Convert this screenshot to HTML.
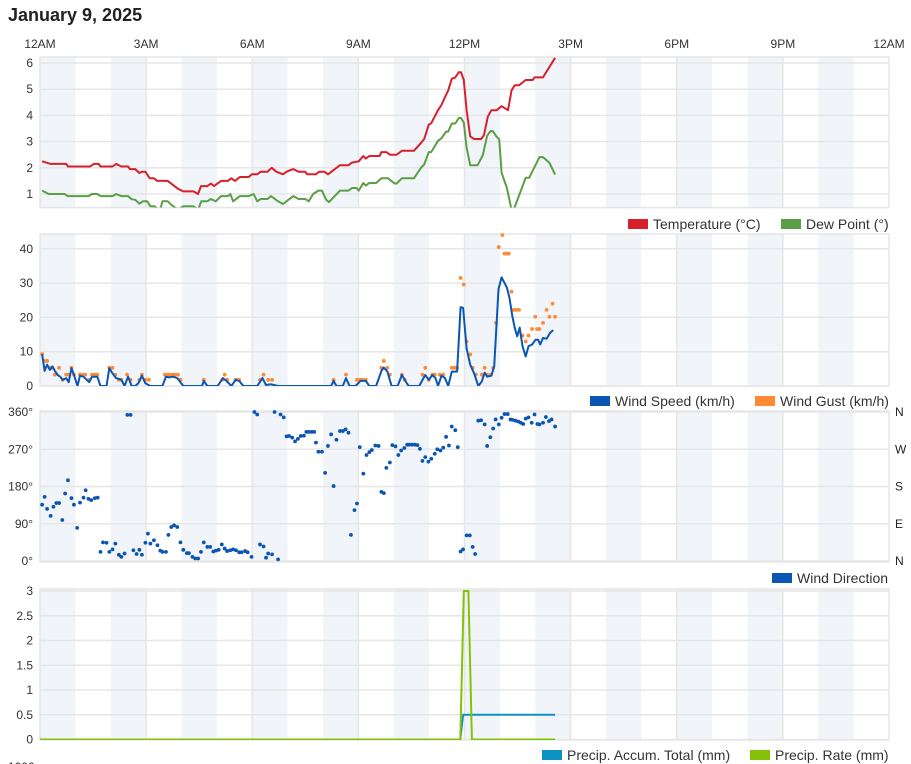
<!DOCTYPE html>
<html><head><meta charset="utf-8"><style>
body{margin:0;background:#fff;width:911px;height:764px;overflow:hidden;font-family:"Liberation Sans",sans-serif;}
svg{position:absolute;left:0;top:0}
</style></head><body>
<svg id="c" width="911" height="764" xmlns="http://www.w3.org/2000/svg" font-family="Liberation Sans, sans-serif"></svg>
<script>
const xTickLabels=["12AM","3AM","6AM","9AM","12PM","3PM","6PM","9PM","12AM"];
const tempT=[.06,.30,.74,.79,1.42,1.52,1.66,1.71,2.05,2.15,2.30,2.49,2.54,2.69,2.81,2.88,2.98,3.10,3.22,3.32,3.61,3.90,4.05,4.34,4.47,4.55,4.73,4.83,4.92,5.12,5.31,5.41,5.51,5.65,5.90,5.99,6.14,6.24,6.43,6.55,6.68,6.87,6.97,7.16,7.31,7.50,7.55,7.80,7.89,8.04,8.14,8.48,8.72,8.82,9.01,9.14,9.21,9.31,9.60,9.65,9.79,9.89,10.08,10.23,10.57,10.77,10.86,10.99,11.06,11.25,11.35,11.45,11.54,11.64,11.74,11.84,11.90,11.98,12.06,12.16,12.27,12.47,12.55,12.66,12.76,12.91,13.05,13.23,13.33,13.42,13.54,13.73,13.93,13.98,14.22,14.56];
const tempV=[2.25,2.15,2.15,2.05,2.05,2.15,2.15,2.05,2.05,2.15,2.05,2.05,1.95,1.95,1.8,1.85,1.85,1.6,1.6,1.5,1.5,1.2,1.1,1.1,1.0,1.3,1.3,1.4,1.3,1.5,1.5,1.6,1.5,1.65,1.65,1.75,1.75,1.85,1.85,2.0,1.85,1.75,1.85,1.95,1.85,1.85,1.75,1.75,1.85,1.85,1.75,2.1,2.1,2.2,2.25,2.45,2.35,2.45,2.45,2.6,2.6,2.5,2.5,2.65,2.65,2.95,3.1,3.65,3.7,4.2,4.4,4.7,4.95,5.4,5.45,5.65,5.65,5.35,4.2,3.2,3.1,3.1,3.25,3.95,4.2,4.2,4.35,4.2,4.95,5.15,5.15,5.35,5.35,5.45,5.45,6.2];
const dewT=[.06,.25,.69,.79,1.37,1.47,1.62,1.71,2.05,2.15,2.30,2.49,2.59,2.69,2.81,2.91,3.03,3.12,3.24,3.34,3.40,3.46,3.61,3.71,3.90,4.05,4.34,4.47,4.56,4.73,4.83,4.97,5.12,5.31,5.38,5.46,5.65,5.90,6.04,6.14,6.24,6.43,6.53,6.73,6.87,7.16,7.31,7.50,7.60,7.72,7.87,7.97,8.09,8.17,8.48,8.72,8.82,8.95,9.01,9.14,9.21,9.31,9.50,9.65,9.84,10.02,10.08,10.23,10.57,10.77,10.86,10.99,11.06,11.25,11.35,11.48,11.54,11.64,11.74,11.84,11.90,11.98,12.06,12.16,12.37,12.52,12.64,12.74,12.81,12.91,12.98,13.05,13.20,13.33,13.39,13.73,13.83,14.12,14.22,14.40,14.56];
const dewV=[1.13,1.0,1.0,.92,.92,1.0,1.0,.92,.92,1.0,.92,.92,.8,.78,.63,.72,.72,.53,.53,.4,.4,.72,.72,.59,.4,.53,.53,.4,.72,.72,.81,.72,.92,.92,1.0,.72,.92,.92,1.0,.72,.81,.81,.92,.72,.62,.92,.81,.81,.72,1.0,1.13,1.13,.78,.69,1.13,1.13,1.23,1.23,1.13,1.42,1.32,1.42,1.42,1.6,1.6,1.4,1.4,1.6,1.6,2.0,2.13,2.6,2.6,3.03,3.13,3.38,3.38,3.69,3.69,3.9,3.9,3.73,2.77,2.1,2.1,2.49,3.22,3.41,3.38,3.18,3.09,1.81,1.23,.4,.4,1.62,1.62,2.41,2.41,2.19,1.74];
const windT=[.06,.13,.20,.28,.35,.42,.50,.57,.64,.74,.81,.89,.96,1.06,1.13,1.23,1.32,1.39,1.47,1.62,1.71,1.88,1.96,2.05,2.15,2.30,2.39,2.49,2.59,2.69,2.78,2.88,2.98,3.12,3.46,3.56,3.66,3.76,3.88,4.05,4.58,4.63,4.73,5.02,5.17,5.27,5.41,5.53,5.63,5.75,6.14,6.29,6.39,6.53,6.73,8.23,8.30,8.38,8.56,8.65,8.75,8.92,9.06,9.21,9.31,9.50,9.65,9.72,9.82,9.94,10.11,10.23,10.33,10.42,10.72,10.89,10.99,11.09,11.18,11.25,11.35,11.45,11.54,11.64,11.79,11.89,11.96,12.06,12.16,12.27,12.39,12.49,12.57,12.64,12.76,12.84,12.96,13.05,13.20,13.27,13.35,13.42,13.49,13.56,13.64,13.73,13.81,13.91,14.01,14.08,14.14,14.22,14.32,14.42,14.51];
const windV=[9.3,4.4,6.2,4.7,5.7,4.4,3.2,2.7,1.8,2.3,1.1,5.2,3.2,0,3,2.7,1.8,1.1,2.7,2.7,0,0,5.2,3.7,2.3,1.8,0,2.7,0,0,.8,3,.8,0,0,2.7,2.5,2.7,2.3,0,0,1.5,0,0,2.3,1.5,0,1.8,1.5,0,0,2.3,.3,.5,0,0,1.5,0,0,2.3,0,0,1.5,1.5,0,0,4.4,5.4,4.2,0,0,3.2,1.5,0,0,3.2,1.8,3.2,2.3,0,3,2.3,0,4.2,4.2,23,22.8,11,6.2,3.7,0,1.3,3.9,2.7,3,5.7,28.2,31.7,28.7,25.8,20.4,17,14.5,17,11.6,8.6,11.6,12.1,13.5,13.5,12.1,14,13.8,15.5,16.3];
const gustT=[.06,.13,.20,.28,.35,.42,.54,.64,.74,.81,.89,.96,1.13,1.20,1.28,1.39,1.47,1.55,1.62,1.96,2.05,2.13,2.23,2.30,2.46,2.56,2.81,2.88,2.98,3.08,3.53,3.61,3.69,3.76,3.82,3.90,3.97,4.63,5.15,5.22,5.29,5.53,5.63,6.22,6.32,6.45,6.56,8.30,8.65,8.96,9.04,9.11,9.21,9.65,9.72,9.82,9.89,10.23,10.31,10.81,10.89,10.99,11.09,11.16,11.30,11.40,11.64,11.72,11.79,11.89,11.98,12.06,12.16,12.23,12.32,12.49,12.57,12.64,12.74,12.81,12.89,12.97,13.07,13.13,13.20,13.25,13.33,13.39,13.46,13.54,13.64,13.73,13.81,13.91,14.00,14.05,14.12,14.22,14.32,14.40,14.49,14.56];
const gustV=[9.3,7.3,7.3,5.3,5.3,3.3,5.3,1.8,3.3,3.3,5.3,3.3,3.3,3.3,3.3,1.8,3.3,3.3,3.3,5.3,5.3,3.3,1.8,1.8,3.3,1.8,1.8,3.3,1.8,1.8,3.3,3.3,3.3,3.3,3.3,3.3,1.8,1.8,1.8,3.3,1.8,1.8,1.8,1.8,3.3,1.8,1.8,1.8,3.3,1.8,1.8,1.8,1.8,5.3,7.3,5.3,3.3,3.3,1.8,3.3,5.3,1.8,3.3,3.3,3.3,3.3,5.3,5.3,5.3,31.5,29.6,13,9.2,5.3,3.3,3.3,5.3,3.3,3.3,5.3,18.4,40.5,44,38.6,38.6,38.6,27.5,22.2,22.2,22.2,14.7,13,14.7,16.6,20.2,16.6,16.6,18.4,22.2,20.2,24,20.2];
const dirT=[.06,.13,.20,.30,.38,.46,.54,.63,.71,.79,.89,.96,1.05,1.13,1.23,1.29,1.37,1.45,1.55,1.63,1.71,1.78,1.88,1.96,2.05,2.13,2.23,2.30,2.39,2.47,2.56,2.64,2.73,2.81,2.88,2.98,3.05,3.12,3.22,3.32,3.40,3.46,3.56,3.63,3.71,3.79,3.88,3.97,4.05,4.15,4.21,4.31,4.39,4.47,4.55,4.63,4.73,4.81,4.90,4.97,5.05,5.14,5.22,5.29,5.38,5.46,5.54,5.63,5.70,5.80,5.87,5.98,6.06,6.14,6.22,6.32,6.39,6.45,6.56,6.63,6.73,6.80,6.89,6.97,7.04,7.13,7.21,7.29,7.37,7.46,7.53,7.60,7.68,7.75,7.80,7.87,7.97,8.06,8.14,8.23,8.30,8.38,8.48,8.56,8.64,8.72,8.79,8.89,8.96,9.04,9.14,9.23,9.31,9.38,9.48,9.57,9.65,9.72,9.79,9.89,9.96,10.05,10.13,10.21,10.30,10.38,10.44,10.52,10.60,10.67,10.74,10.81,10.89,10.98,11.06,11.16,11.23,11.32,11.40,11.48,11.56,11.64,11.74,11.81,11.89,11.96,12.06,12.15,12.23,12.30,12.39,12.47,12.57,12.64,12.73,12.81,12.88,12.97,13.05,13.13,13.22,13.30,13.36,13.44,13.52,13.59,13.66,13.73,13.81,13.90,13.98,14.06,14.12,14.22,14.30,14.39,14.46,14.56];
const dirV=[136,155,126,109,131,140,140,99,163,195,152,136,80,141,153,171,150,147,152,153,22,45,44,22,28,42,15,10,18,353,353,26,17,27,15,44,66,42,50,38,25,22,22,63,82,86,82,45,27,19,19,10,6,6,22,45,34,34,23,25,27,40,30,24,26,28,26,21,21,24,21,10,360,354,40,35,8,18,16,360,4,354,347,301,302,298,289,295,302,303,312,312,312,312,286,264,264,213,278,306,181,293,314,314,318,310,63,123,139,275,211,256,263,268,279,278,167,164,225,238,280,277,256,267,273,281,281,281,281,280,271,242,251,240,247,259,270,267,274,300,279,325,316,275,23,28,62,62,34,17,339,340,330,278,299,320,342,330,346,355,355,342,341,339,337,334,331,344,347,334,354,331,330,334,348,338,342,325];
const rateT=[0,11.88,11.98,12.11,12.21,14.56];
const rateV=[0,0,3,3,0,0];
const accT=[0,11.88,11.96,14.56];
const accV=[0,0,0.5,0.5];
const p1Ticks=[1,2,3,4,5,6];
const p2Ticks=[0,10,20,30,40];
const p3Ticks=[0,90,180,270,360];
const p3Labels=["0°","90°","180°","270°","360°"];
const p3Right=["N","E","S","W","N"];
const p4Ticks=[0,0.5,1,1.5,2,2.5,3];
const p4Labels=["0","0.5","1","1.5","2","2.5","3"];

const svg=document.getElementById('c');const NS='http://www.w3.org/2000/svg';
function mk(t,a,p){const e=document.createElementNS(NS,t);for(const k in a)e.setAttribute(k,a[k]);(p||svg).appendChild(e);return e;}
const X0=40,X1=889;
function x(h){return X0+h*(X1-X0)/24;}
const panels=[
 {top:57,bot:207.5,y:v=>194-(v-1)*26.2,name:'temperature-panel'},
 {top:234,bot:386,y:v=>386-v*3.43,name:'wind-speed-panel'},
 {top:411,bot:562,y:v=>561-v*149/360,name:'wind-direction-panel'},
 {top:589,bot:740,y:v=>739.5-v*49.5,name:'precipitation-panel'}];
const t=mk('text',{x:8,y:21,'font-size':18,'font-weight':'bold',fill:'#222'});t.textContent='January 9, 2025';

xTickLabels.forEach((l,i)=>{const e=mk('text',{x:x(i*3),y:48,'font-size':12,fill:'#333','text-anchor':'middle'});e.textContent=l;
 });
panels.forEach((p,pi)=>{
 const g=mk('g',{});
 mk('clipPath',{id:'cp'+pi},g);mk('rect',{x:X0,y:p.top,width:X1-X0,height:p.bot-p.top},g.lastChild);
 for(let h=0;h<24;h+=2){const b=mk('rect',{x:x(h),y:p.top,width:x(1)-X0,height:p.bot-p.top,fill:'#f1f5f9'},g);
  }
 for(let h=3;h<24;h+=3)mk('line',{x1:x(h),x2:x(h),y1:p.top,y2:p.bot,stroke:'#e6e6e6','stroke-width':1.5},g);
 mk('rect',{x:X0,y:p.top,width:X1-X0,height:p.bot-p.top,fill:'none',stroke:'#e6e6e6','stroke-width':1.5},g);
 p.g=g;
});
function ticks(p,vals,labels){vals.forEach((v,i)=>{const yy=p.y(v);
 mk('line',{x1:X0,x2:X1,y1:yy,y2:yy,stroke:'#e6e6e6','stroke-width':1.5},p.g);
 const e=mk('text',{x:33,y:yy+4,'font-size':12,fill:'#333','text-anchor':'end'},p.g);e.textContent=labels?labels[i]:v;
 });}
ticks(panels[0],p1Ticks);ticks(panels[1],p2Ticks);ticks(panels[2],p3Ticks,p3Labels);ticks(panels[3],p4Ticks,p4Labels);
p3Ticks.forEach((v,i)=>{const e=mk('text',{x:895,y:panels[2].y(v)+4,'font-size':12,fill:'#222'},panels[2].g);e.textContent=p3Right[i];
 });
function line(pi,T,V,col,name,w){const p=panels[pi];const d=T.map((h,i)=>(i?'L':'M')+x(h).toFixed(1)+','+p.y(V[i]).toFixed(1)).join('');
 const e=mk('path',{d:d,fill:'none',stroke:col,'stroke-width':w||2,'stroke-linejoin':'round','clip-path':'url(#cp'+pi+')'},p.g);
 }
function dots(pi,T,V,col,name){const p=panels[pi];T.forEach((h,i)=>{const e=mk('circle',{cx:x(h),cy:p.y(V[i]),r:1.9,fill:col},p.g);
 });}
line(0,tempT,tempV,'#d7202c','temperature-line');
line(0,dewT,dewV,'#5a9e46','dew-point-line');
dots(1,gustT,gustV,'#ff8a33','wind-gust-dot');
line(1,windT,windV,'#0a56b2','wind-speed-line');
dots(2,dirT,dirV,'#0a56b2','wind-direction-dot');
line(3,accT,accV,'#0b92c2','precip-accum-line');
line(3,rateT,rateV,'#84c20a','precip-rate-line');
function legend(items,y){items.forEach(it=>{const g=mk('g',{});
 mk('rect',{x:it[0],y:y-5,width:20,height:10,fill:it[1]},g);
 const e=mk('text',{x:it[0]+25,y:y+5,'font-size':14,fill:'#333'},g);e.textContent=it[2];});}
legend([[628,'#d7202c','Temperature (°C)'],[781,'#5a9e46','Dew Point (°)']],224);
legend([[590,'#0a56b2','Wind Speed (km/h)'],[755,'#ff8a33','Wind Gust (km/h)']],401);
legend([[772,'#0a56b2','Wind Direction']],578);
legend([[542,'#0b92c2','Precip. Accum. Total (mm)'],[750,'#84c20a','Precip. Rate (mm)']],755);
const b=mk('text',{x:8,y:771,'font-size':12,fill:'#333'});b.textContent='1000';

</script>
</body></html>
